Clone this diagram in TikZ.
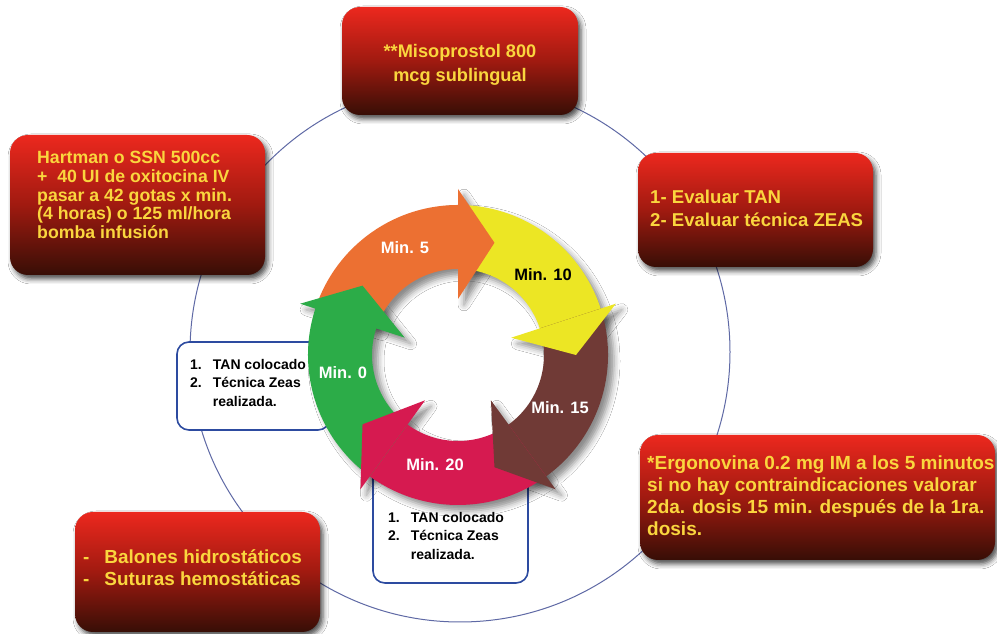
\documentclass[tikz,border=0pt]{standalone}
\usepackage{fontspec}
\setmainfont{Liberation Sans}
\usetikzlibrary{shadows.blur}
\definecolor{gold}{RGB}{250,214,62}
\definecolor{redtop}{RGB}{236,40,30}
\definecolor{redmid}{RGB}{160,26,16}
\definecolor{redbot}{RGB}{55,14,6}
\definecolor{boxblue}{RGB}{45,75,160}
\definecolor{ringline}{RGB}{95,105,165}
\definecolor{agreen}{RGB}{44,172,72}
\definecolor{aorange}{RGB}{236,112,50}
\definecolor{ayellow}{RGB}{236,230,36}
\definecolor{abrown}{RGB}{112,58,54}
\definecolor{apink}{RGB}{214,26,80}
\begin{document}
\begin{tikzpicture}[x=1pt,y=1pt,
  redbox/.style={rectangle, rounded corners=18pt, top color=redtop, bottom color=redbot, middle color=redmid,
    blur shadow={shadow xshift=3pt,shadow yshift=-4pt,shadow blur radius=5pt,shadow opacity=70}, inner sep=0pt},
  redtext/.style={text=gold, align=left, inner sep=0pt, anchor=west},
  tanbox/.style={rectangle, draw=boxblue, line width=1.6pt, rounded corners=12pt, fill=white, inner sep=0pt},
  tantext/.style={text=black, align=left, inner sep=0pt, anchor=west, font=\fontsize{14}{18.5}\selectfont\bfseries},
  minlabel/.style={font=\fontsize{16.5}{18}\selectfont\bfseries, inner sep=0pt},
  ringshadow/.style={blur shadow={shadow xshift=6pt,shadow yshift=-6pt,shadow blur radius=6pt,shadow opacity=45}},
]
\useasboundingbox (0,0) rectangle (997,634);
\fill[white] (0,0) rectangle (997,634);

% big background circle
\draw[ringline, line width=1pt] (460,282) circle[radius=270];

% red boxes
\node[redbox, minimum width=236pt, minimum height=108pt] (miso) at (460,573) {};
\node[text=gold, align=center, inner sep=0pt, font=\fontsize{18.2}{23.5}\selectfont\bfseries] (misot) at (460,569)
  {**Misoprostol 800\\mcg sublingual};

\node[redbox, minimum width=255pt, minimum height=140pt] (hart) at (137.5,429) {};
\node[redtext, font=\fontsize{17.7}{18.6}\selectfont\bfseries] (hartt) at (37,439)
  {Hartman o SSN 500cc\\+~~40 UI de oxitocina IV\\pasar a 42 gotas x min.\\(4 horas) o 125 ml/hora\\bomba infusión};

\node[redbox, minimum width=235pt, minimum height=114pt] (eval) at (755.5,424) {};
\node[redtext, font=\fontsize{18.6}{23}\selectfont\bfseries] (evalt) at (650,425.5)
  {1- Evaluar TAN\\2- Evaluar técnica ZEAS};

\node[redbox, minimum width=355pt, minimum height=125pt] (ergo) at (817.5,136.5) {};
\node[redtext, font=\fontsize{19}{22}\selectfont\bfseries] (ergot) at (647,138)
  {*Ergonovina 0.2 mg IM a los 5 minutos\\si no hay contraindicaciones valorar\\2da. dosis 15 min. después de la 1ra.\\dosis.};

\node[redbox, minimum width=245pt, minimum height=120pt] (bal) at (197.5,62) {};
\node[redtext, font=\fontsize{18.9}{22}\selectfont\bfseries] (balt) at (83,64)
  {\begin{tabular}{@{}l@{\hspace{15pt}}l@{}}-&Balones hidrostáticos\\-&Suturas hemostáticas\end{tabular}};

% white boxes
\node[tanbox, minimum width=153pt, minimum height=88pt] (tanl) at (253.5,248) {};
\node[tantext] (tanlt) at (190,250)
  {\begin{tabular}{@{}l@{\hspace{11pt}}l@{}}1.&TAN colocado\\2.&Técnica Zeas\\&realizada.\end{tabular}};
\node[tanbox, minimum width=155pt, minimum height=138pt] (tanb) at (450.5,120) {};
\node[tantext] (tanbt) at (388,97)
  {\begin{tabular}{@{}l@{\hspace{11pt}}l@{}}1.&TAN colocado\\2.&Técnica Zeas\\&realizada.\end{tabular}};

% cycle ring
\begin{scope}[shift={(458,279)}]
\foreach \a/\b/\t in {162/90/72, 90/18/0, 18/-54/-72, -54/-126/-144, 234/162/144} {
  \path[ringshadow] (\a:150) arc[start angle=\a,end angle=\b,radius=150] -- (\b:166) -- (\t:118) -- (\b:56) -- (\b:86)
     arc[start angle=\b,end angle=\a,radius=86] -- cycle;
}
\foreach \a/\b/\c in {162/90/aorange, 90/18/ayellow, 18/-54/abrown, -54/-126/apink, 234/162/agreen} {
  \fill[\c] (\a:150) arc[start angle=\a,end angle=\b-2,radius=150] -- (\b-2:86)
     arc[start angle=\b-2,end angle=\a,radius=86] -- cycle;
}
\foreach \b/\t/\c in {90/72/aorange, 18/0/ayellow, -54/-72/abrown, -126/-144/apink, 162/144/agreen} {
  \fill[\c] (\b:166) -- (\t:118) -- (\b:56) -- cycle;
}
\end{scope}

\node[minlabel, text=white] (m5) at (405,386) {Min. 5};
\node[minlabel, text=black] (m10) at (543,359) {Min. 10};
\node[minlabel, text=white] (m15) at (560,226) {Min. 15};
\node[minlabel, text=white] (m20) at (435,169) {Min. 20};
\node[minlabel, text=white] (m0) at (343,261) {Min. 0};
\end{tikzpicture}
\end{document}
